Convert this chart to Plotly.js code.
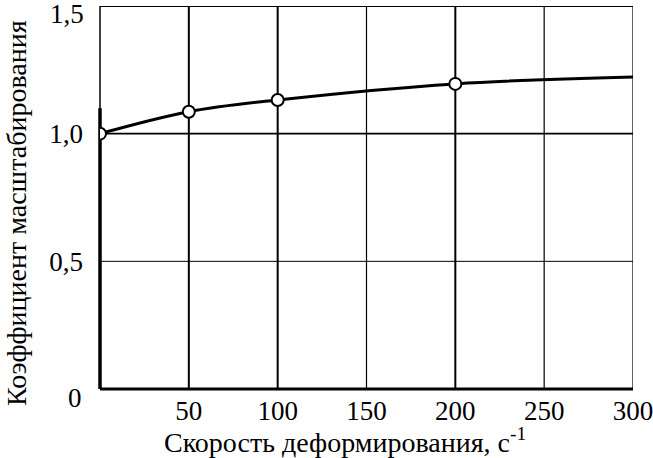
<!DOCTYPE html>
<html><head><meta charset="utf-8">
<script src="https://cdn.plot.ly/plotly-3.0.1.min.js"></script>
<style>html,body{margin:0;padding:0;background:#fff}#c{width:653px;height:458px}</style>
</head><body><div id="c"></div>
<script>
const rateX = [0, 50, 100, 200];
const coefY = [1.0, 1.086, 1.132, 1.195];
const curveX = [0, 50, 100, 200, 300];
const curveY = [1.0, 1.086, 1.132, 1.195, 1.222];
const xTickVals = [50, 100, 150, 200, 250, 300];
const xTickText = ['50', '100', '150', '200', '250', '300'];
const yTickVals = [0.5, 1.0];
const yTickText = ['0,5', '1,0'];
const topTick = 1.5, topTickText = '1,5';
const xTitle = 'Скорость деформирования, с<sup>-1</sup>';
const yTitle = 'Коэффициент масштабирования';
const thickX = [50, 100, 200];
const thinX = [150, 250, 300];

const font = 'Liberation Serif';
const shapes = [];
thickX.forEach(v => shapes.push({type:'line', xref:'x', yref:'paper', x0:v, x1:v, y0:0, y1:1, line:{color:'#000', width:2}, layer:'below'}));
thinX.forEach(v => shapes.push({type:'line', xref:'x', yref:'paper', x0:v, x1:v, y0:0, y1:1, line:{color:'#000', width:1.2}, layer:'below'}));
shapes.push({type:'line', xref:'paper', yref:'y', x0:0, x1:1, y0:1.0, y1:1.0, line:{color:'#000', width:1.8}, layer:'below'});
shapes.push({type:'line', xref:'paper', yref:'y', x0:0, x1:1, y0:0.5, y1:0.5, line:{color:'#000', width:1}, layer:'below'});
shapes.push({type:'line', xref:'paper', yref:'y', x0:0, x1:1, y0:1.5, y1:1.5, line:{color:'#000', width:1.8}, layer:'below'});
shapes.push({type:'line', xref:'paper', yref:'paper', x0:0, x1:0, y0:1, y1:0, line:{color:'#000', width:1.5}, layer:'below'});
shapes.push({type:'line', xref:'paper', yref:'y', x0:0, x1:0, y0:0, y1:1.1, line:{color:'#000', width:3.5}, layer:'below'});
shapes.push({type:'line', xref:'paper', yref:'paper', x0:0, x1:1, y0:0, y1:0, line:{color:'#000', width:3}, layer:'below'});

const data = [
  {x: curveX, y: curveY, mode:'lines', line:{shape:'spline', color:'#000', width:3}, hoverinfo:'skip'},
  {x: rateX, y: coefY, mode:'markers', marker:{symbol:'circle', size:12, color:'#fff', line:{color:'#000', width:2}}, cliponaxis:true}
];
const tf = {family:font, size:27, color:'#000'};
const pw = 653 - 100 - 20, ph = 458 - 6 - 69;
const layout = {
  width:653, height:458,
  margin:{l:100, r:20, t:6, b:69},
  paper_bgcolor:'#fff', plot_bgcolor:'#fff',
  showlegend:false,
  font:tf,
  xaxis:{range:[0,300], tickvals:xTickVals, ticktext:xTickText, showgrid:false, zeroline:false, showline:false, ticks:'', ticklabelstandoff:3,
         tickfont:tf, ticklabeloverflow:'allow'},
  yaxis:{range:[0,1.5], tickvals:yTickVals, ticktext:yTickText, showgrid:false, zeroline:false, showline:false, ticks:'', ticklabelstandoff:16,
         tickfont:tf},
  shapes: shapes,
  annotations:[
    {text:'0', xref:'paper', yref:'paper', x:0, xanchor:'center', xshift:-25, y:0, yshift:-26, showarrow:false, font:tf},
    {text:topTickText, xref:'paper', yref:'y', x:0, xanchor:'right', xshift:-14, y:topTick, yshift:-8, showarrow:false, font:tf},
    {text:xTitle, xref:'paper', yref:'paper', x:(345 - 100) / pw, y:(389 - 440) / ph, xanchor:'center', yanchor:'middle', showarrow:false, font:{family:font, size:28, color:'#000'}},
    {text:yTitle, xref:'paper', yref:'paper', x:(17 - 100) / pw, y:(389 - 213) / ph, textangle:-90, xanchor:'center', yanchor:'middle', showarrow:false, font:{family:font, size:28, color:'#000'}}
  ]
};
Plotly.newPlot('c', data, layout, {displayModeBar:false, staticPlot:true});
</script></body></html>
